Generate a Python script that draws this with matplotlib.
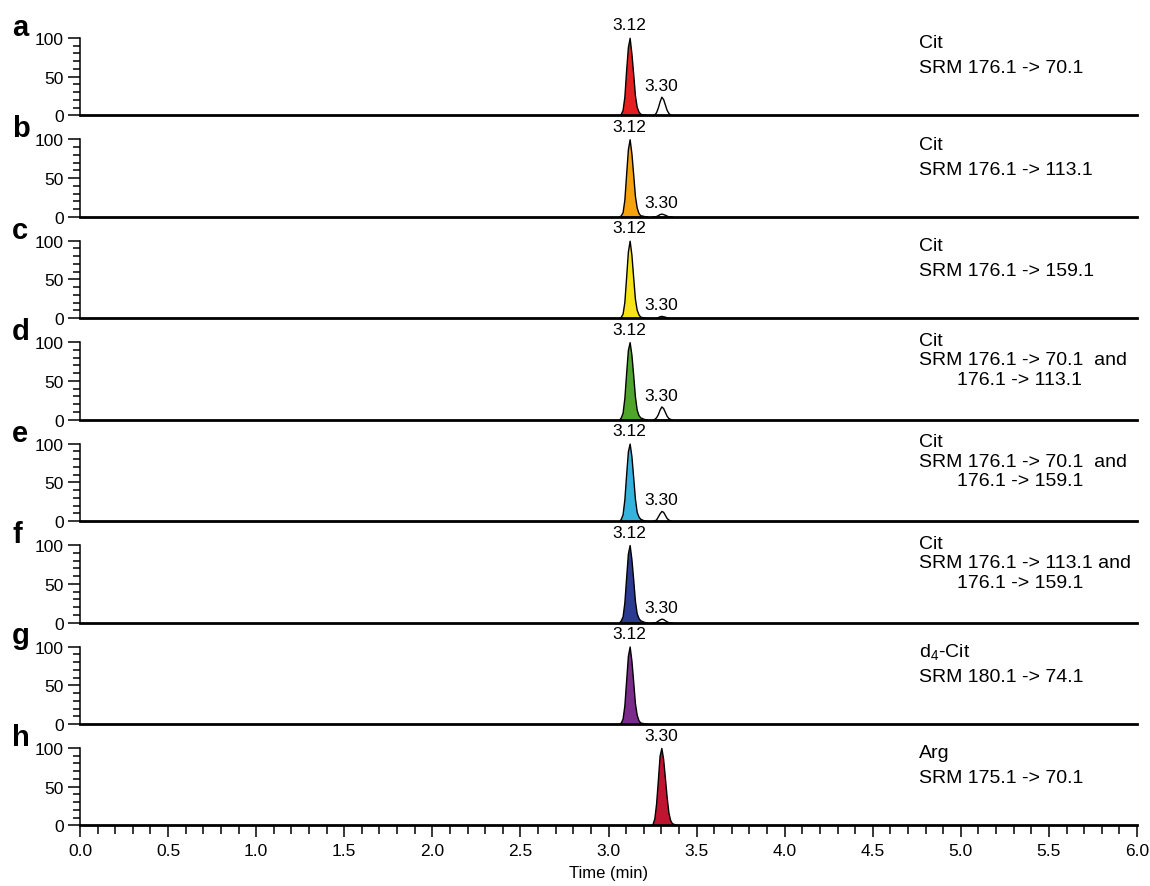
import matplotlib
matplotlib.use('Agg')
import matplotlib.pyplot as plt
from matplotlib.ticker import MultipleLocator, FixedLocator
import numpy as np

plt.rcParams['font.family'] = ['Liberation Sans', 'DejaVu Sans']
plt.rcParams['mathtext.default'] = 'regular'

# retention time grids (min)
time_cit = [3.06, 3.07, 3.08, 3.09, 3.10, 3.11, 3.12, 3.13, 3.14, 3.15, 3.16, 3.17, 3.18, 3.20, 3.22]
time_minor = [3.25, 3.26, 3.27, 3.28, 3.29, 3.30, 3.31, 3.32, 3.33, 3.34, 3.35, 3.36]
time_arg = [3.24, 3.25, 3.26, 3.27, 3.28, 3.29, 3.30, 3.31, 3.32, 3.33, 3.34, 3.35, 3.36, 3.38, 3.40]

# relative abundance (%) of the main (coloured) peak in each trace
main_a = [0, 2, 7, 24, 58, 88, 100, 80, 54, 26, 11, 5, 2, 1, 0]
main_b = [0, 2, 6, 22, 55, 87, 100, 82, 55, 27, 12, 5, 2, 1, 0]
main_c = [0, 2, 6, 21, 53, 86, 100, 82, 53, 25, 11, 5, 2, 1, 0]
main_d = [0, 3, 9, 28, 60, 90, 100, 84, 58, 30, 13, 6, 3, 1, 0]
main_e = [0, 3, 9, 28, 60, 90, 100, 84, 57, 29, 12, 6, 3, 1, 0]
main_f = [0, 3, 8, 26, 58, 89, 100, 82, 56, 28, 12, 6, 3, 1, 0]
main_g = [0, 2, 7, 24, 56, 88, 100, 82, 55, 27, 12, 5, 2, 1, 0]
main_h = [0, 2, 9, 28, 58, 90, 100, 86, 62, 37, 17, 7, 3, 1, 0]

# minor (unfilled) peak at 3.30 in the Cit traces
minor_a = [0, 1, 4, 10, 18, 24, 21, 14, 7, 3, 1, 0]
minor_b = [0, 0, 1, 2, 3.5, 4, 3.5, 2.5, 1.5, 0.5, 0, 0]
minor_c = [0, 0, 0.5, 1.5, 2.5, 3, 2.5, 2, 1, 0.5, 0, 0]
minor_d = [0, 1, 3, 7, 13, 17, 15, 10, 5, 2, 1, 0]
minor_e = [0, 1, 2, 6, 10, 13, 12, 8, 4, 2, 0.5, 0]
minor_f = [0, 0, 1, 2.5, 4, 5, 4.5, 3, 1.5, 0.5, 0, 0]

panel_letters = ['a', 'b', 'c', 'd', 'e', 'f', 'g', 'h']
main_peaks = [main_a, main_b, main_c, main_d, main_e, main_f, main_g, main_h]
minor_peaks = [minor_a, minor_b, minor_c, minor_d, minor_e, minor_f, None, None]
main_labels = ['3.12'] * 7 + ['3.30']
minor_label = '3.30'
colors = ['#e3201f', '#f5a20f', '#f7e31a', '#4fa52c', '#36b3dc',
          '#2b3b90', '#7b2c8b', '#c01530']
trace_titles = [
    ['Cit', 'SRM 176.1 -> 70.1'],
    ['Cit', 'SRM 176.1 -> 113.1'],
    ['Cit', 'SRM 176.1 -> 159.1'],
    ['Cit', 'SRM 176.1 -> 70.1  and', '176.1 -> 113.1'],
    ['Cit', 'SRM 176.1 -> 70.1  and', '176.1 -> 159.1'],
    ['Cit', 'SRM 176.1 -> 113.1 and', '176.1 -> 159.1'],
    ['d$_4$-Cit', 'SRM 180.1 -> 74.1'],
    ['Arg', 'SRM 175.1 -> 70.1'],
]

W, H = 1150, 887
fig = plt.figure(figsize=(W / 100, H / 100), dpi=100)

x_left, x_right = 80, 1137
zero0, step = 116.3, 101.45
px_per_unit = 0.775
ytop = 128

for i in range(8):
    zero = zero0 + step * i
    ax = fig.add_axes([x_left / W, 1 - zero / H, (x_right - x_left) / W,
                       ytop * px_per_unit / H])
    t_main = time_arg if i == 7 else time_cit
    y_main = main_peaks[i]
    ax.fill_between(t_main, y_main, 0, facecolor=colors[i], edgecolor='black', linewidth=1.0)
    k = int(np.argmax(y_main))
    ax.annotate(main_labels[i], xy=(t_main[k], y_main[k]), xytext=(0, 6),
                textcoords='offset points', ha='center', va='baseline', fontsize=12.5)
    if minor_peaks[i] is not None:
        ym = minor_peaks[i]
        ax.fill_between(time_minor, ym, 0, facecolor='white', edgecolor='black', linewidth=1.0)
        k = int(np.argmax(ym))
        ax.annotate(minor_label, xy=(time_minor[k], ym[k]), xytext=(0, 5),
                    textcoords='offset points', ha='center', va='baseline', fontsize=12.5)

    ax.set_xlim(0, 6)
    ax.set_ylim(0, ytop)
    ax.patch.set_visible(False)
    for s in ['top', 'right']:
        ax.spines[s].set_visible(False)
    ax.spines['left'].set_bounds(0, 100)
    ax.spines['left'].set_linewidth(1.1)
    ax.spines['bottom'].set_linewidth(2.0)
    ax.yaxis.set_major_locator(FixedLocator([0, 50, 100]))
    ax.yaxis.set_minor_locator(FixedLocator(list(range(0, 101, 10))))
    ax.tick_params(axis='y', which='major', length=8.5, width=1.1, labelsize=12.5, pad=3)
    ax.tick_params(axis='y', which='minor', length=5, width=1.1)

    if i == 7:
        ax.xaxis.set_major_locator(MultipleLocator(0.5))
        ax.xaxis.set_minor_locator(MultipleLocator(0.1))
        ax.xaxis.set_major_formatter(plt.FormatStrFormatter('%.1f'))
        ax.tick_params(axis='x', which='major', length=8.5, width=1.1, labelsize=12.5, pad=4)
        ax.tick_params(axis='x', which='minor', length=6.5, width=1.1)
        ax.set_xlabel('Time (min)', fontsize=12, labelpad=5)
    else:
        ax.set_xticks([])

    # trace description on the right
    lines = trace_titles[i]
    if len(lines) == 2:
        offsets = [68, 43]
    else:
        offsets = [75, 55.5, 36]
    for j, line in enumerate(lines):
        tx = 4.763 if j < 2 else 4.978
        ax.text(tx, offsets[j] / px_per_unit, line, fontsize=14, ha='left', va='baseline')

    # panel letter
    fig.text(12 / W, 1 - (zero - 100 * px_per_unit - 3) / H, panel_letters[i],
             fontsize=21, fontweight='bold', ha='left', va='baseline')

fig.savefig('out.png', dpi=100)
